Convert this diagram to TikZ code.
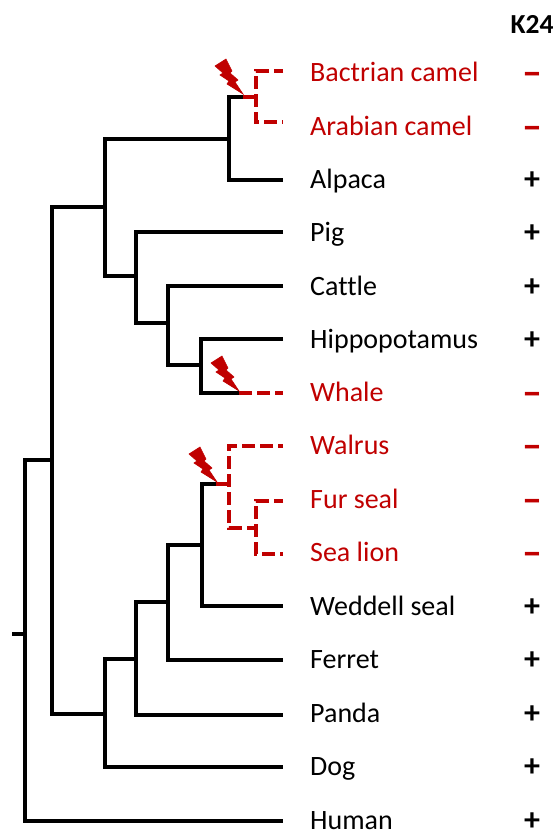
\documentclass[tikz,border=0pt]{standalone}
\usepackage{fontspec}
\setmainfont{Carlito}[Ligatures=NoCommon]
\definecolor{lossred}{RGB}{192,0,0}
\tikzset{
  branch/.style={draw=black,line width=4.5pt,line join=miter},
  lostbranch/.style={draw=lossred,line width=4.5pt,dash pattern=on 13pt off 5pt},
  lostfirm/.style={draw=lossred,line width=4.5pt},
  taxon/.style={anchor=base west,inner sep=0pt,font=\fontsize{28}{28}\selectfont,text=black},
  losttaxon/.style={taxon,text=lossred},
  mark plus/.style={anchor=base,inner sep=0pt,font=\bfseries\fontsize{32}{32}\selectfont,text=black},
  mark minus/.style={anchor=base,inner sep=0pt,font=\bfseries\fontsize{40}{40}\selectfont,text=lossred},
  boltshape/.style={fill=lossred,draw=lossred,line width=0.6pt,line join=miter}
}
\newcommand{\lightning}[1]{%
  \filldraw[boltshape,shift={(#1)}] (-27,-27) -- (-16,-34) -- (-10,-22) -- (-12,-20) -- (-4,-13) -- (-7,-11) -- (1,1) -- (-15,-9) -- (-13,-12) -- (-22,-18) -- (-19,-20) -- cycle;}
\begin{document}
\begin{tikzpicture}[x=1pt,y=-1pt]
\useasboundingbox (0,0) rectangle (553,831);
% taxa
\node[losttaxon] (t1) at (310,81.5) {Bactrian camel};
\node[losttaxon] (t2) at (310,135.5) {Arabian camel};
\node[taxon] (t3) at (310,188.5) {Alpaca};
\node[taxon] (t4) at (310,241.5) {Pig};
\node[taxon] (t5) at (310,295.5) {Cattle};
\node[taxon] (t6) at (310,348.5) {Hippopotamus};
\node[losttaxon] (t7) at (310,401.5) {Whale};
\node[losttaxon] (t8) at (310,454.5) {Walrus};
\node[losttaxon] (t9) at (310,508.5) {Fur seal};
\node[losttaxon] (t10) at (310,561.5) {Sea lion};
\node[taxon] (t11) at (310,615.5) {Weddell seal};
\node[taxon] (t12) at (310,668.5) {Ferret};
\node[taxon] (t13) at (310,722) {Panda};
\node[taxon] (t14) at (310,775) {Dog};
\node[taxon] (t15) at (310,829) {Human};
% K24 column
\node[anchor=base,inner sep=0pt,font=\bfseries\fontsize{27.5}{27.5}\selectfont] (k) at (532,33) {K24};
\foreach \y/\n in {73/1,127/2,393/7,446/8,500/9,553/10}
  \node[mark minus] (m\n) at (532,\y+12) {–};
\foreach \y/\n in {180/3,233/4,287/5,340/6,607/11,660/12,714/13,767/14,821/15}
  \node[mark plus] (m\n) at (532,\y+9) {+};
% branch tips
\coordinate (e1) at (283,71);
\coordinate (e2) at (283,122);
\coordinate (e3) at (283,180);
\coordinate (e4) at (283,232);
\coordinate (e5) at (283,286);
\coordinate (e6) at (283,339);
\coordinate (e7) at (283,393);
\coordinate (e8) at (283,446);
\coordinate (e9) at (283,501);
\coordinate (e10) at (283,554);
\coordinate (e11) at (283,606);
\coordinate (e12) at (283,660);
\coordinate (e13) at (283,715);
\coordinate (e14) at (283,767);
\coordinate (e15) at (283,821);
% internal vertices
\coordinate (root) at (25,634);
\coordinate (rootstem) at (12,634);
\coordinate (a) at (52,460);
\coordinate (b) at (105,207);
\coordinate (camels) at (229,139);
\coordinate (c12) at (243,97);
\coordinate (c12b) at (256,97);
\coordinate (d) at (136,276);
\coordinate (f) at (168,323);
\coordinate (g) at (201,365);
\coordinate (g7) at (239,393);
\coordinate (h) at (105,714);
\coordinate (i) at (136,659);
\coordinate (j) at (168,602);
\coordinate (l) at (202,545);
\coordinate (m) at (216,484);
\coordinate (n) at (229,484);
\coordinate (o) at (256,528);
% black tree
\draw[branch] (rootstem) -- (root);
\draw[branch] (a) -| (root) |- (e15);
\draw[branch] (b) -| (a) |- (h);
\draw[branch] (camels) -| (b) |- (d);
\draw[branch] (c12) -| (camels) |- (e3);
\draw[branch] (e4) -| (d) |- (f);
\draw[branch] (e5) -| (f) |- (g);
\draw[branch] (e6) -| (g) |- (g7);
\draw[branch] (i) -| (h) |- (e14);
\draw[branch] (j) -| (i) |- (e13);
\draw[branch] (l) -| (j) |- (e12);
\draw[branch] (m) -| (l) |- (e11);
% red losses
\draw[lostfirm] (c12) -- (c12b);
\draw[lostbranch,dash phase=4pt] (e1) -| (c12b) |- (e2);
\draw[lostbranch] (g7) -- (e7);
\draw[lostfirm] (m) -- (n);
\draw[lostbranch,dash phase=8pt] (e8) -| (n) |- (o);
\draw[lostbranch,dash phase=4pt] (e9) -| (o) |- (e10);
% lightning
\lightning{242,93}
\lightning{238,390}
\lightning{216,481}
\end{tikzpicture}
\end{document}
